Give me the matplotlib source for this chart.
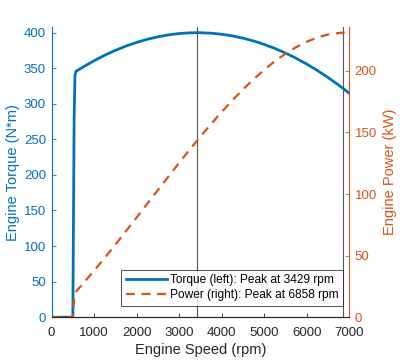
import matplotlib
matplotlib.use("Agg")
import matplotlib.pyplot as plt

plt.rcParams['font.family'] = ['Liberation Sans', 'DejaVu Sans']

BLUE = '#0072BD'
ORANGE = '#D95319'
DARK = '#262626'
GRID_LINE = '#555555'

# values
speed_rpm = [0, 500, 510, 530, 550, 575, 600, 750, 1000, 1250, 1500, 1750, 2000,
             2250, 2500, 2750, 3000, 3250, 3429, 3500, 3750, 4000, 4250, 4500,
             4750, 5000, 5250, 5500, 5750, 6000, 6250, 6500, 6750, 6858, 7000]
torque_nm = [0, 0, 100, 280, 340, 345.9, 346.6, 352.1, 360.6, 368.3, 375.2, 381.2,
             386.4, 390.7, 394.2, 396.9, 398.8, 399.8, 400.0, 400.0, 399.3, 397.8,
             395.5, 392.3, 388.4, 383.5, 377.9, 371.4, 364.1, 355.9, 346.9, 337.1,
             326.4, 321.6, 314.9]
power_kw = [0, 0, 5.3, 15.5, 19.6, 20.8, 21.8, 27.7, 37.8, 48.2, 58.9, 69.9, 80.9,
            92.1, 103.2, 114.3, 125.3, 136.1, 143.6, 146.6, 156.8, 166.6, 176.0,
            184.9, 193.2, 200.8, 207.8, 213.9, 219.2, 223.6, 227.0, 229.5, 230.7,
            231.0, 230.8]
peak_torque_rpm = 3429
peak_power_rpm = 6858

fig = plt.figure(figsize=(4.0, 3.6), dpi=100)
ax = fig.add_axes([0.129, 0.119, 0.744, 0.806])
ax2 = ax.twinx()

l1, = ax.plot(speed_rpm, torque_nm, color=BLUE, lw=2.0, zorder=2)
ax.axvline(peak_torque_rpm, color=GRID_LINE, lw=0.8, zorder=3)
ax.axvline(peak_power_rpm, color=GRID_LINE, lw=0.8, zorder=3)
l2, = ax2.plot(speed_rpm, power_kw, color=ORANGE, lw=1.6, ls=(0, (4, 3)))

ax.set_xlim(0, 7000)
ax.set_ylim(0, 408)
ax2.set_ylim(0, 235.6)
ax.set_xticks(range(0, 7001, 1000))
ax.set_yticks(range(0, 401, 50))
ax2.set_yticks(range(0, 201, 50))

ax.set_xlabel('Engine Speed (rpm)', color=DARK, fontsize=10.5, labelpad=3)
ax.set_ylabel('Engine Torque (N*m)', color=BLUE, fontsize=10.5, labelpad=3)
ax2.set_ylabel('Engine Power (kW)', color=ORANGE, fontsize=10.5, labelpad=4)

for a in (ax, ax2):
    a.spines['top'].set_visible(False)
    a.spines['bottom'].set_color(DARK)
ax2.spines['left'].set_visible(False)
ax.spines['right'].set_visible(False)
ax.spines['left'].set_color(BLUE)
ax2.spines['right'].set_color(ORANGE)

ax.tick_params(axis='x', direction='in', length=3, width=0.6, colors=DARK,
               labelsize=9.5, pad=7)
ax.tick_params(axis='y', direction='in', length=3, width=0.6, colors=BLUE,
               labelsize=9.5, pad=4)
ax2.tick_params(axis='y', direction='in', length=3, width=0.6, colors=ORANGE,
                labelsize=9.5, pad=4)

leg = ax2.legend([l1, l2],
                 [f'Torque (left): Peak at {peak_torque_rpm} rpm',
                  f'Power (right): Peak at {peak_power_rpm} rpm'],
                 loc='lower right', bbox_to_anchor=(0.98, 0.04), fontsize=8.6,
                 frameon=True, fancybox=False, handlelength=3.5,
                 handletextpad=0.25, borderpad=0.35, labelspacing=0.25,
                 borderaxespad=0)
leg.get_frame().set_edgecolor('black')
leg.get_frame().set_linewidth(0.6)

fig.savefig('out.png', dpi=100)
